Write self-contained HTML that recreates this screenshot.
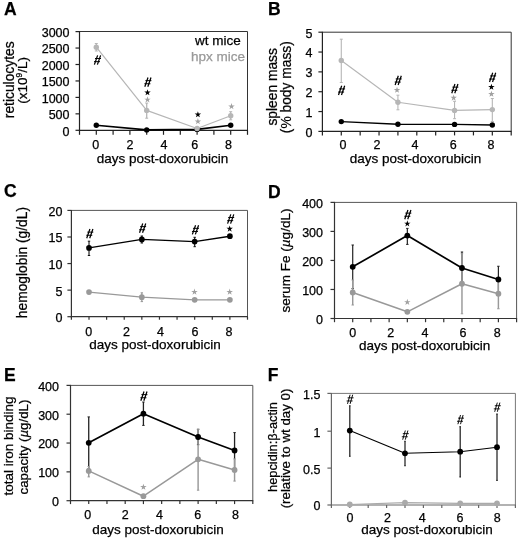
<!DOCTYPE html>
<html><head><meta charset="utf-8"><style>
html,body{margin:0;padding:0;background:#fff;overflow:hidden;}
svg{display:block;will-change:transform;filter:blur(0.3px);}
text{font-family:"Liberation Sans", sans-serif;}
</style></head><body>
<svg width="520" height="540" viewBox="0 0 520 540">
<rect width="520" height="540" fill="#fff"/>
<line x1="79.5" y1="31.5" x2="247.5" y2="31.5" stroke="#111" stroke-width="0"/>
<text x="218" y="44.9" font-size="13.5" text-anchor="middle" fill="#000" stroke="#000" stroke-width="0.25">wt mice</text>
<text x="218" y="60.8" font-size="13.5" text-anchor="middle" fill="#999" stroke="#999" stroke-width="0.25">hpx mice</text>
<line x1="79.50" y1="31.50" x2="247.50" y2="31.50" stroke="#333" stroke-width="1.0"/>
<line x1="247.50" y1="31.50" x2="247.50" y2="130.30" stroke="#333" stroke-width="1.0"/>
<line x1="79.50" y1="31.00" x2="79.50" y2="130.90" stroke="#222" stroke-width="1.2"/>
<line x1="78.90" y1="130.30" x2="248.00" y2="130.30" stroke="#222" stroke-width="1.2"/>
<line x1="75.50" y1="130.30" x2="79.50" y2="130.30" stroke="#222" stroke-width="1.2"/>
<text x="69.50" y="135.70" font-size="12.5" text-anchor="end" fill="#000" stroke="#000" stroke-width="0.25" >0</text>
<line x1="75.50" y1="113.85" x2="79.50" y2="113.85" stroke="#222" stroke-width="1.2"/>
<text x="69.50" y="119.25" font-size="12.5" text-anchor="end" fill="#000" stroke="#000" stroke-width="0.25" >500</text>
<line x1="75.50" y1="97.40" x2="79.50" y2="97.40" stroke="#222" stroke-width="1.2"/>
<text x="69.50" y="102.80" font-size="12.5" text-anchor="end" fill="#000" stroke="#000" stroke-width="0.25" >1000</text>
<line x1="75.50" y1="80.95" x2="79.50" y2="80.95" stroke="#222" stroke-width="1.2"/>
<text x="69.50" y="86.35" font-size="12.5" text-anchor="end" fill="#000" stroke="#000" stroke-width="0.25" >1500</text>
<line x1="75.50" y1="64.50" x2="79.50" y2="64.50" stroke="#222" stroke-width="1.2"/>
<text x="69.50" y="69.90" font-size="12.5" text-anchor="end" fill="#000" stroke="#000" stroke-width="0.25" >2000</text>
<line x1="75.50" y1="48.05" x2="79.50" y2="48.05" stroke="#222" stroke-width="1.2"/>
<text x="69.50" y="53.45" font-size="12.5" text-anchor="end" fill="#000" stroke="#000" stroke-width="0.25" >2500</text>
<line x1="75.50" y1="31.60" x2="79.50" y2="31.60" stroke="#222" stroke-width="1.2"/>
<text x="69.50" y="37.00" font-size="12.5" text-anchor="end" fill="#000" stroke="#000" stroke-width="0.25" >3000</text>
<line x1="79.50" y1="130.30" x2="79.50" y2="134.80" stroke="#222" stroke-width="1.2"/>
<line x1="96.30" y1="130.30" x2="96.30" y2="134.80" stroke="#222" stroke-width="1.2"/>
<line x1="113.10" y1="130.30" x2="113.10" y2="134.80" stroke="#222" stroke-width="1.2"/>
<line x1="129.90" y1="130.30" x2="129.90" y2="134.80" stroke="#222" stroke-width="1.2"/>
<line x1="146.70" y1="130.30" x2="146.70" y2="134.80" stroke="#222" stroke-width="1.2"/>
<line x1="163.50" y1="130.30" x2="163.50" y2="134.80" stroke="#222" stroke-width="1.2"/>
<line x1="180.30" y1="130.30" x2="180.30" y2="134.80" stroke="#222" stroke-width="1.2"/>
<line x1="197.10" y1="130.30" x2="197.10" y2="134.80" stroke="#222" stroke-width="1.2"/>
<line x1="213.90" y1="130.30" x2="213.90" y2="134.80" stroke="#222" stroke-width="1.2"/>
<line x1="230.70" y1="130.30" x2="230.70" y2="134.80" stroke="#222" stroke-width="1.2"/>
<line x1="247.50" y1="130.30" x2="247.50" y2="134.80" stroke="#222" stroke-width="1.2"/>
<text x="95.80" y="148.90" font-size="12.5" text-anchor="middle" fill="#000" stroke="#000" stroke-width="0.25" >0</text>
<text x="130.10" y="148.90" font-size="12.5" text-anchor="middle" fill="#000" stroke="#000" stroke-width="0.25" >2</text>
<text x="164.00" y="148.90" font-size="12.5" text-anchor="middle" fill="#000" stroke="#000" stroke-width="0.25" >4</text>
<text x="194.80" y="148.90" font-size="12.5" text-anchor="middle" fill="#000" stroke="#000" stroke-width="0.25" >6</text>
<text x="228.50" y="148.90" font-size="12.5" text-anchor="middle" fill="#000" stroke="#000" stroke-width="0.25" >8</text>
<text x="162.50" y="162.70" font-size="13.5" text-anchor="middle" fill="#000" stroke="#000" stroke-width="0.25" >days post-doxorubicin</text>
<text x="14.00" y="79.80" font-size="13.8" text-anchor="middle" stroke="#000" stroke-width="0.25" transform="rotate(-90 14.00 79.80)">reticulocytes</text>
<text x="26.80" y="80.30" font-size="13.5" text-anchor="middle" stroke="#000" stroke-width="0.25" transform="rotate(-90 26.80 80.30)">(x10<tspan font-size="8.5" dy="-4.5">9</tspan><tspan dy="4.5">/L)</tspan></text>
<text x="4.00" y="15.00" font-size="17.5" text-anchor="start" fill="#000" stroke="#000" stroke-width="0.25" font-weight="bold">A</text>
<polyline points="96.30,125.30 146.70,129.90 197.10,129.40 230.70,125.30" fill="none" stroke="#000" stroke-width="1.6" stroke-linejoin="round"/>
<circle cx="96.30" cy="125.30" r="2.7" fill="#000"/>
<circle cx="146.70" cy="129.90" r="2.7" fill="#000"/>
<circle cx="197.10" cy="129.40" r="2.7" fill="#000"/>
<circle cx="230.70" cy="125.30" r="2.7" fill="#000"/>
<line x1="96.30" y1="43.50" x2="96.30" y2="51.00" stroke="#b6b6b6" stroke-width="1.3"/>
<line x1="94.80" y1="43.50" x2="97.80" y2="43.50" stroke="#b6b6b6" stroke-width="1.0"/>
<line x1="94.80" y1="51.00" x2="97.80" y2="51.00" stroke="#b6b6b6" stroke-width="1.0"/>
<line x1="146.70" y1="103.10" x2="146.70" y2="118.20" stroke="#b6b6b6" stroke-width="1.3"/>
<line x1="145.20" y1="103.10" x2="148.20" y2="103.10" stroke="#b6b6b6" stroke-width="1.0"/>
<line x1="145.20" y1="118.20" x2="148.20" y2="118.20" stroke="#b6b6b6" stroke-width="1.0"/>
<line x1="230.70" y1="111.70" x2="230.70" y2="119.80" stroke="#b6b6b6" stroke-width="1.3"/>
<line x1="229.20" y1="111.70" x2="232.20" y2="111.70" stroke="#b6b6b6" stroke-width="1.0"/>
<line x1="229.20" y1="119.80" x2="232.20" y2="119.80" stroke="#b6b6b6" stroke-width="1.0"/>
<polyline points="96.30,47.20 146.70,110.40 197.10,128.50 230.70,115.80" fill="none" stroke="#b6b6b6" stroke-width="1.2" stroke-linejoin="round"/>
<circle cx="96.30" cy="47.20" r="2.7" fill="#b6b6b6"/>
<circle cx="146.70" cy="110.40" r="2.7" fill="#b6b6b6"/>
<circle cx="197.10" cy="128.50" r="2.7" fill="#b6b6b6"/>
<circle cx="230.70" cy="115.80" r="2.7" fill="#b6b6b6"/>
<path d="M97.60,55.40L94.40,64.60M100.60,55.40L97.40,64.60" stroke="#000" stroke-width="1.25" fill="none"/>
<path d="M95.00,58.53L101.00,58.53M94.00,61.66L100.00,61.66" stroke="#000" stroke-width="1.0" fill="none"/>
<path d="M148.00,77.50L144.80,86.70M151.00,77.50L147.80,86.70" stroke="#000" stroke-width="1.25" fill="none"/>
<path d="M145.40,80.63L151.40,80.63M144.40,83.76L150.40,83.76" stroke="#000" stroke-width="1.0" fill="none"/>
<polygon points="147.50,89.20 148.26,91.55 150.73,91.55 148.73,93.00 149.50,95.35 147.50,93.89 145.50,95.35 146.27,93.00 144.27,91.55 146.74,91.55" fill="#000"/>
<polygon points="147.50,96.30 148.26,98.65 150.73,98.65 148.73,100.10 149.50,102.45 147.50,100.99 145.50,102.45 146.27,100.10 144.27,98.65 146.74,98.65" fill="#a0a0a0"/>
<polygon points="197.90,111.20 198.66,113.55 201.13,113.55 199.13,115.00 199.90,117.35 197.90,115.89 195.90,117.35 196.67,115.00 194.67,113.55 197.14,113.55" fill="#000"/>
<polygon points="197.90,118.10 198.66,120.45 201.13,120.45 199.13,121.90 199.90,124.25 197.90,122.79 195.90,124.25 196.67,121.90 194.67,120.45 197.14,120.45" fill="#a0a0a0"/>
<polygon points="231.50,103.10 232.26,105.45 234.73,105.45 232.73,106.90 233.50,109.25 231.50,107.79 229.50,109.25 230.27,106.90 228.27,105.45 230.74,105.45" fill="#a0a0a0"/>
<line x1="322.40" y1="32.20" x2="511.20" y2="32.20" stroke="#333" stroke-width="1.0"/>
<line x1="511.20" y1="32.20" x2="511.20" y2="131.40" stroke="#333" stroke-width="1.0"/>
<line x1="322.40" y1="31.70" x2="322.40" y2="132.00" stroke="#222" stroke-width="1.2"/>
<line x1="321.80" y1="131.40" x2="511.70" y2="131.40" stroke="#222" stroke-width="1.2"/>
<line x1="318.40" y1="131.40" x2="322.40" y2="131.40" stroke="#222" stroke-width="1.2"/>
<text x="312.50" y="136.80" font-size="12.5" text-anchor="end" fill="#000" stroke="#000" stroke-width="0.25" >0</text>
<line x1="318.40" y1="111.56" x2="322.40" y2="111.56" stroke="#222" stroke-width="1.2"/>
<text x="312.50" y="116.96" font-size="12.5" text-anchor="end" fill="#000" stroke="#000" stroke-width="0.25" >1</text>
<line x1="318.40" y1="91.72" x2="322.40" y2="91.72" stroke="#222" stroke-width="1.2"/>
<text x="312.50" y="97.12" font-size="12.5" text-anchor="end" fill="#000" stroke="#000" stroke-width="0.25" >2</text>
<line x1="318.40" y1="71.88" x2="322.40" y2="71.88" stroke="#222" stroke-width="1.2"/>
<text x="312.50" y="77.28" font-size="12.5" text-anchor="end" fill="#000" stroke="#000" stroke-width="0.25" >3</text>
<line x1="318.40" y1="52.04" x2="322.40" y2="52.04" stroke="#222" stroke-width="1.2"/>
<text x="312.50" y="57.44" font-size="12.5" text-anchor="end" fill="#000" stroke="#000" stroke-width="0.25" >4</text>
<line x1="318.40" y1="32.20" x2="322.40" y2="32.20" stroke="#222" stroke-width="1.2"/>
<text x="312.50" y="37.60" font-size="12.5" text-anchor="end" fill="#000" stroke="#000" stroke-width="0.25" >5</text>
<line x1="322.40" y1="131.40" x2="322.40" y2="135.40" stroke="#222" stroke-width="1.2"/>
<line x1="341.28" y1="131.40" x2="341.28" y2="135.40" stroke="#222" stroke-width="1.2"/>
<line x1="360.16" y1="131.40" x2="360.16" y2="135.40" stroke="#222" stroke-width="1.2"/>
<line x1="379.04" y1="131.40" x2="379.04" y2="135.40" stroke="#222" stroke-width="1.2"/>
<line x1="397.92" y1="131.40" x2="397.92" y2="135.40" stroke="#222" stroke-width="1.2"/>
<line x1="416.80" y1="131.40" x2="416.80" y2="135.40" stroke="#222" stroke-width="1.2"/>
<line x1="435.68" y1="131.40" x2="435.68" y2="135.40" stroke="#222" stroke-width="1.2"/>
<line x1="454.56" y1="131.40" x2="454.56" y2="135.40" stroke="#222" stroke-width="1.2"/>
<line x1="473.44" y1="131.40" x2="473.44" y2="135.40" stroke="#222" stroke-width="1.2"/>
<line x1="492.32" y1="131.40" x2="492.32" y2="135.40" stroke="#222" stroke-width="1.2"/>
<line x1="511.20" y1="131.40" x2="511.20" y2="135.40" stroke="#222" stroke-width="1.2"/>
<text x="343.10" y="149.40" font-size="12.5" text-anchor="middle" fill="#000" stroke="#000" stroke-width="0.25" >0</text>
<text x="377.00" y="149.40" font-size="12.5" text-anchor="middle" fill="#000" stroke="#000" stroke-width="0.25" >2</text>
<text x="414.90" y="149.40" font-size="12.5" text-anchor="middle" fill="#000" stroke="#000" stroke-width="0.25" >4</text>
<text x="453.30" y="149.40" font-size="12.5" text-anchor="middle" fill="#000" stroke="#000" stroke-width="0.25" >6</text>
<text x="490.90" y="149.40" font-size="12.5" text-anchor="middle" fill="#000" stroke="#000" stroke-width="0.25" >8</text>
<text x="415.50" y="163.40" font-size="13.5" text-anchor="middle" fill="#000" stroke="#000" stroke-width="0.25" >days post-doxorubicin</text>
<text x="277.50" y="86.80" font-size="13.8" text-anchor="middle" stroke="#000" stroke-width="0.25" transform="rotate(-90 277.50 86.80)">spleen mass</text>
<text x="291.00" y="87.20" font-size="13.8" text-anchor="middle" stroke="#000" stroke-width="0.25" transform="rotate(-90 291.00 87.20)">(% body mass)</text>
<text x="268.00" y="15.00" font-size="17.5" text-anchor="start" fill="#000" stroke="#000" stroke-width="0.25" font-weight="bold">B</text>
<polyline points="341.28,121.60 397.92,124.30 454.56,124.40 492.32,125.00" fill="none" stroke="#000" stroke-width="1.4" stroke-linejoin="round"/>
<circle cx="341.28" cy="121.60" r="2.7" fill="#000"/>
<circle cx="397.92" cy="124.30" r="2.7" fill="#000"/>
<circle cx="454.56" cy="124.40" r="2.7" fill="#000"/>
<circle cx="492.32" cy="125.00" r="2.7" fill="#000"/>
<line x1="341.28" y1="39.20" x2="341.28" y2="82.50" stroke="#b6b6b6" stroke-width="1.1"/>
<line x1="339.78" y1="39.20" x2="342.78" y2="39.20" stroke="#b6b6b6" stroke-width="1.0"/>
<line x1="339.78" y1="82.50" x2="342.78" y2="82.50" stroke="#b6b6b6" stroke-width="1.0"/>
<line x1="397.92" y1="95.20" x2="397.92" y2="109.80" stroke="#b6b6b6" stroke-width="1.1"/>
<line x1="396.42" y1="95.20" x2="399.42" y2="95.20" stroke="#b6b6b6" stroke-width="1.0"/>
<line x1="396.42" y1="109.80" x2="399.42" y2="109.80" stroke="#b6b6b6" stroke-width="1.0"/>
<line x1="454.56" y1="101.30" x2="454.56" y2="118.70" stroke="#b6b6b6" stroke-width="1.1"/>
<line x1="453.06" y1="101.30" x2="456.06" y2="101.30" stroke="#b6b6b6" stroke-width="1.0"/>
<line x1="453.06" y1="118.70" x2="456.06" y2="118.70" stroke="#b6b6b6" stroke-width="1.0"/>
<line x1="492.32" y1="98.50" x2="492.32" y2="121.50" stroke="#b6b6b6" stroke-width="1.1"/>
<line x1="490.82" y1="98.50" x2="493.82" y2="98.50" stroke="#b6b6b6" stroke-width="1.0"/>
<line x1="490.82" y1="121.50" x2="493.82" y2="121.50" stroke="#b6b6b6" stroke-width="1.0"/>
<polyline points="341.28,60.50 397.92,102.30 454.56,110.40 492.32,109.60" fill="none" stroke="#b6b6b6" stroke-width="1.1" stroke-linejoin="round"/>
<circle cx="341.28" cy="60.50" r="2.7" fill="#b6b6b6"/>
<circle cx="397.92" cy="102.30" r="2.7" fill="#b6b6b6"/>
<circle cx="454.56" cy="110.40" r="2.7" fill="#b6b6b6"/>
<circle cx="492.32" cy="109.60" r="2.7" fill="#b6b6b6"/>
<path d="M341.68,85.80L338.48,95.00M344.68,85.80L341.48,95.00" stroke="#000" stroke-width="1.25" fill="none"/>
<path d="M339.08,88.93L345.08,88.93M338.08,92.06L344.08,92.06" stroke="#000" stroke-width="1.0" fill="none"/>
<path d="M398.32,75.80L395.12,85.00M401.32,75.80L398.12,85.00" stroke="#000" stroke-width="1.25" fill="none"/>
<path d="M395.72,78.93L401.72,78.93M394.72,82.06L400.72,82.06" stroke="#000" stroke-width="1.0" fill="none"/>
<polygon points="397.02,86.70 397.78,89.05 400.25,89.05 398.25,90.50 399.02,92.85 397.02,91.39 395.02,92.85 395.79,90.50 393.79,89.05 396.26,89.05" fill="#a0a0a0"/>
<path d="M454.96,84.00L451.76,93.20M457.96,84.00L454.76,93.20" stroke="#000" stroke-width="1.25" fill="none"/>
<path d="M452.36,87.13L458.36,87.13M451.36,90.26L457.36,90.26" stroke="#000" stroke-width="1.0" fill="none"/>
<polygon points="453.66,94.50 454.42,96.85 456.89,96.85 454.89,98.30 455.66,100.65 453.66,99.19 451.66,100.65 452.43,98.30 450.43,96.85 452.90,96.85" fill="#a0a0a0"/>
<path d="M492.72,72.80L489.52,82.00M495.72,72.80L492.52,82.00" stroke="#000" stroke-width="1.25" fill="none"/>
<path d="M490.12,75.93L496.12,75.93M489.12,79.06L495.12,79.06" stroke="#000" stroke-width="1.0" fill="none"/>
<polygon points="491.42,83.70 492.18,86.05 494.65,86.05 492.65,87.50 493.42,89.85 491.42,88.39 489.42,89.85 490.19,87.50 488.19,86.05 490.66,86.05" fill="#000"/>
<polygon points="491.42,90.70 492.18,93.05 494.65,93.05 492.65,94.50 493.42,96.85 491.42,95.39 489.42,96.85 490.19,94.50 488.19,93.05 490.66,93.05" fill="#a0a0a0"/>
<line x1="71.40" y1="210.40" x2="247.50" y2="210.40" stroke="#555" stroke-width="1.0"/>
<line x1="247.50" y1="210.40" x2="247.50" y2="316.70" stroke="#555" stroke-width="1.0"/>
<line x1="71.40" y1="209.90" x2="71.40" y2="317.30" stroke="#333" stroke-width="1.2"/>
<line x1="70.80" y1="316.70" x2="248.00" y2="316.70" stroke="#333" stroke-width="1.2"/>
<line x1="67.40" y1="316.70" x2="71.40" y2="316.70" stroke="#333" stroke-width="1.2"/>
<text x="62.50" y="322.10" font-size="12.5" text-anchor="end" fill="#000" stroke="#000" stroke-width="0.25" >0</text>
<line x1="67.40" y1="290.13" x2="71.40" y2="290.13" stroke="#333" stroke-width="1.2"/>
<text x="62.50" y="295.53" font-size="12.5" text-anchor="end" fill="#000" stroke="#000" stroke-width="0.25" >5</text>
<line x1="67.40" y1="263.56" x2="71.40" y2="263.56" stroke="#333" stroke-width="1.2"/>
<text x="62.50" y="268.96" font-size="12.5" text-anchor="end" fill="#000" stroke="#000" stroke-width="0.25" >10</text>
<line x1="67.40" y1="236.99" x2="71.40" y2="236.99" stroke="#333" stroke-width="1.2"/>
<text x="62.50" y="242.39" font-size="12.5" text-anchor="end" fill="#000" stroke="#000" stroke-width="0.25" >15</text>
<line x1="67.40" y1="210.42" x2="71.40" y2="210.42" stroke="#333" stroke-width="1.2"/>
<text x="62.50" y="215.82" font-size="12.5" text-anchor="end" fill="#000" stroke="#000" stroke-width="0.25" >20</text>
<line x1="71.40" y1="316.70" x2="71.40" y2="319.70" stroke="#333" stroke-width="1.2"/>
<line x1="89.01" y1="316.70" x2="89.01" y2="319.70" stroke="#333" stroke-width="1.2"/>
<line x1="106.62" y1="316.70" x2="106.62" y2="319.70" stroke="#333" stroke-width="1.2"/>
<line x1="124.23" y1="316.70" x2="124.23" y2="319.70" stroke="#333" stroke-width="1.2"/>
<line x1="141.84" y1="316.70" x2="141.84" y2="319.70" stroke="#333" stroke-width="1.2"/>
<line x1="159.45" y1="316.70" x2="159.45" y2="319.70" stroke="#333" stroke-width="1.2"/>
<line x1="177.06" y1="316.70" x2="177.06" y2="319.70" stroke="#333" stroke-width="1.2"/>
<line x1="194.67" y1="316.70" x2="194.67" y2="319.70" stroke="#333" stroke-width="1.2"/>
<line x1="212.28" y1="316.70" x2="212.28" y2="319.70" stroke="#333" stroke-width="1.2"/>
<line x1="229.89" y1="316.70" x2="229.89" y2="319.70" stroke="#333" stroke-width="1.2"/>
<line x1="247.50" y1="316.70" x2="247.50" y2="319.70" stroke="#333" stroke-width="1.2"/>
<text x="88.65" y="335.90" font-size="12.5" text-anchor="middle" fill="#000" stroke="#000" stroke-width="0.25" >0</text>
<text x="126.40" y="335.90" font-size="12.5" text-anchor="middle" fill="#000" stroke="#000" stroke-width="0.25" >2</text>
<text x="160.40" y="335.90" font-size="12.5" text-anchor="middle" fill="#000" stroke="#000" stroke-width="0.25" >4</text>
<text x="194.90" y="335.90" font-size="12.5" text-anchor="middle" fill="#000" stroke="#000" stroke-width="0.25" >6</text>
<text x="228.90" y="335.90" font-size="12.5" text-anchor="middle" fill="#000" stroke="#000" stroke-width="0.25" >8</text>
<text x="155.00" y="348.60" font-size="13.5" text-anchor="middle" fill="#000" stroke="#000" stroke-width="0.25" >days post-doxorubicin</text>
<text x="27.00" y="262.60" font-size="13.8" text-anchor="middle" stroke="#000" stroke-width="0.25" transform="rotate(-90 27.00 262.60)">hemoglobin (g/dL)</text>
<text x="4.00" y="196.50" font-size="17.5" text-anchor="start" fill="#000" stroke="#000" stroke-width="0.25" font-weight="bold">C</text>
<line x1="89.01" y1="241.20" x2="89.01" y2="255.50" stroke="#111" stroke-width="1.1"/>
<line x1="87.81" y1="241.20" x2="90.21" y2="241.20" stroke="#111" stroke-width="1.0"/>
<line x1="87.81" y1="255.50" x2="90.21" y2="255.50" stroke="#111" stroke-width="1.0"/>
<line x1="141.84" y1="236.00" x2="141.84" y2="243.00" stroke="#111" stroke-width="1.1"/>
<line x1="140.64" y1="236.00" x2="143.04" y2="236.00" stroke="#111" stroke-width="1.0"/>
<line x1="140.64" y1="243.00" x2="143.04" y2="243.00" stroke="#111" stroke-width="1.0"/>
<line x1="194.67" y1="237.30" x2="194.67" y2="246.70" stroke="#111" stroke-width="1.1"/>
<line x1="193.47" y1="237.30" x2="195.87" y2="237.30" stroke="#111" stroke-width="1.0"/>
<line x1="193.47" y1="246.70" x2="195.87" y2="246.70" stroke="#111" stroke-width="1.0"/>
<line x1="141.84" y1="292.80" x2="141.84" y2="301.60" stroke="#999" stroke-width="1.3"/>
<line x1="140.64" y1="292.80" x2="143.04" y2="292.80" stroke="#999" stroke-width="1.0"/>
<line x1="140.64" y1="301.60" x2="143.04" y2="301.60" stroke="#999" stroke-width="1.0"/>
<polyline points="89.01,292.10 141.84,297.20 194.67,299.80 229.89,299.80" fill="none" stroke="#999" stroke-width="1.25" stroke-linejoin="round"/>
<circle cx="89.01" cy="292.10" r="2.85" fill="#999"/>
<circle cx="141.84" cy="297.20" r="2.85" fill="#999"/>
<circle cx="194.67" cy="299.80" r="2.85" fill="#999"/>
<circle cx="229.89" cy="299.80" r="2.85" fill="#999"/>
<polyline points="89.01,247.90 141.84,239.40 194.67,241.60 229.89,236.20" fill="none" stroke="#000" stroke-width="1.4" stroke-linejoin="round"/>
<circle cx="89.01" cy="247.90" r="2.85" fill="#000"/>
<circle cx="141.84" cy="239.40" r="2.85" fill="#000"/>
<circle cx="194.67" cy="241.60" r="2.85" fill="#000"/>
<circle cx="229.89" cy="236.20" r="2.85" fill="#000"/>
<path d="M89.91,229.00L86.71,238.20M92.91,229.00L89.71,238.20" stroke="#000" stroke-width="1.25" fill="none"/>
<path d="M87.31,232.13L93.31,232.13M86.31,235.26L92.31,235.26" stroke="#000" stroke-width="1.0" fill="none"/>
<path d="M142.74,223.50L139.54,232.70M145.74,223.50L142.54,232.70" stroke="#000" stroke-width="1.25" fill="none"/>
<path d="M140.14,226.63L146.14,226.63M139.14,229.76L145.14,229.76" stroke="#000" stroke-width="1.0" fill="none"/>
<path d="M195.57,225.20L192.37,234.40M198.57,225.20L195.37,234.40" stroke="#000" stroke-width="1.25" fill="none"/>
<path d="M192.97,228.33L198.97,228.33M191.97,231.46L197.97,231.46" stroke="#000" stroke-width="1.0" fill="none"/>
<path d="M230.79,214.40L227.59,223.60M233.79,214.40L230.59,223.60" stroke="#000" stroke-width="1.25" fill="none"/>
<path d="M228.19,217.53L234.19,217.53M227.19,220.66L233.19,220.66" stroke="#000" stroke-width="1.0" fill="none"/>
<polygon points="229.69,225.50 230.45,227.85 232.92,227.85 230.92,229.30 231.69,231.65 229.69,230.19 227.69,231.65 228.46,229.30 226.46,227.85 228.93,227.85" fill="#000"/>
<polygon points="194.47,288.60 195.23,290.95 197.70,290.95 195.70,292.40 196.47,294.75 194.47,293.29 192.47,294.75 193.24,292.40 191.24,290.95 193.71,290.95" fill="#a0a0a0"/>
<polygon points="229.69,288.60 230.45,290.95 232.92,290.95 230.92,292.40 231.69,294.75 229.69,293.29 227.69,294.75 228.46,292.40 226.46,290.95 228.93,290.95" fill="#a0a0a0"/>
<line x1="334.50" y1="202.40" x2="516.60" y2="202.40" stroke="#555" stroke-width="1.0"/>
<line x1="516.60" y1="202.40" x2="516.60" y2="318.50" stroke="#555" stroke-width="1.0"/>
<line x1="334.50" y1="201.90" x2="334.50" y2="319.10" stroke="#333" stroke-width="1.2"/>
<line x1="333.90" y1="318.50" x2="517.10" y2="318.50" stroke="#333" stroke-width="1.2"/>
<line x1="330.50" y1="318.50" x2="334.50" y2="318.50" stroke="#333" stroke-width="1.2"/>
<text x="323.00" y="323.90" font-size="12.5" text-anchor="end" fill="#000" stroke="#000" stroke-width="0.25" >0</text>
<line x1="330.50" y1="289.47" x2="334.50" y2="289.47" stroke="#333" stroke-width="1.2"/>
<text x="323.00" y="294.87" font-size="12.5" text-anchor="end" fill="#000" stroke="#000" stroke-width="0.25" >100</text>
<line x1="330.50" y1="260.44" x2="334.50" y2="260.44" stroke="#333" stroke-width="1.2"/>
<text x="323.00" y="265.84" font-size="12.5" text-anchor="end" fill="#000" stroke="#000" stroke-width="0.25" >200</text>
<line x1="330.50" y1="231.41" x2="334.50" y2="231.41" stroke="#333" stroke-width="1.2"/>
<text x="323.00" y="236.81" font-size="12.5" text-anchor="end" fill="#000" stroke="#000" stroke-width="0.25" >300</text>
<line x1="330.50" y1="202.38" x2="334.50" y2="202.38" stroke="#333" stroke-width="1.2"/>
<text x="323.00" y="207.78" font-size="12.5" text-anchor="end" fill="#000" stroke="#000" stroke-width="0.25" >400</text>
<line x1="334.50" y1="318.50" x2="334.50" y2="322.20" stroke="#333" stroke-width="1.2"/>
<line x1="352.71" y1="318.50" x2="352.71" y2="322.20" stroke="#333" stroke-width="1.2"/>
<line x1="370.92" y1="318.50" x2="370.92" y2="322.20" stroke="#333" stroke-width="1.2"/>
<line x1="389.13" y1="318.50" x2="389.13" y2="322.20" stroke="#333" stroke-width="1.2"/>
<line x1="407.34" y1="318.50" x2="407.34" y2="322.20" stroke="#333" stroke-width="1.2"/>
<line x1="425.55" y1="318.50" x2="425.55" y2="322.20" stroke="#333" stroke-width="1.2"/>
<line x1="443.76" y1="318.50" x2="443.76" y2="322.20" stroke="#333" stroke-width="1.2"/>
<line x1="461.97" y1="318.50" x2="461.97" y2="322.20" stroke="#333" stroke-width="1.2"/>
<line x1="480.18" y1="318.50" x2="480.18" y2="322.20" stroke="#333" stroke-width="1.2"/>
<line x1="498.39" y1="318.50" x2="498.39" y2="322.20" stroke="#333" stroke-width="1.2"/>
<line x1="516.60" y1="318.50" x2="516.60" y2="322.20" stroke="#333" stroke-width="1.2"/>
<text x="352.80" y="336.80" font-size="12.5" text-anchor="middle" fill="#000" stroke="#000" stroke-width="0.25" >0</text>
<text x="390.80" y="336.80" font-size="12.5" text-anchor="middle" fill="#000" stroke="#000" stroke-width="0.25" >2</text>
<text x="424.90" y="336.80" font-size="12.5" text-anchor="middle" fill="#000" stroke="#000" stroke-width="0.25" >4</text>
<text x="463.00" y="336.80" font-size="12.5" text-anchor="middle" fill="#000" stroke="#000" stroke-width="0.25" >6</text>
<text x="497.20" y="336.80" font-size="12.5" text-anchor="middle" fill="#000" stroke="#000" stroke-width="0.25" >8</text>
<text x="424.60" y="350.20" font-size="13.5" text-anchor="middle" fill="#000" stroke="#000" stroke-width="0.25" >days post-doxorubicin</text>
<text x="290.00" y="260.50" font-size="13.5" text-anchor="middle" stroke="#000" stroke-width="0.25" transform="rotate(-90 290.00 260.50)">serum Fe (<tspan font-style="italic">µ</tspan>g/dL)</text>
<text x="268.00" y="198.00" font-size="17.5" text-anchor="start" fill="#000" stroke="#000" stroke-width="0.25" font-weight="bold">D</text>
<line x1="352.71" y1="245.00" x2="352.71" y2="288.60" stroke="#222" stroke-width="1.2"/>
<line x1="351.51" y1="245.00" x2="353.91" y2="245.00" stroke="#222" stroke-width="1.0"/>
<line x1="351.51" y1="288.60" x2="353.91" y2="288.60" stroke="#222" stroke-width="1.0"/>
<line x1="407.34" y1="228.40" x2="407.34" y2="244.40" stroke="#222" stroke-width="1.2"/>
<line x1="406.14" y1="228.40" x2="408.54" y2="228.40" stroke="#222" stroke-width="1.0"/>
<line x1="406.14" y1="244.40" x2="408.54" y2="244.40" stroke="#222" stroke-width="1.0"/>
<line x1="461.97" y1="252.00" x2="461.97" y2="284.00" stroke="#222" stroke-width="1.2"/>
<line x1="460.77" y1="252.00" x2="463.17" y2="252.00" stroke="#222" stroke-width="1.0"/>
<line x1="460.77" y1="284.00" x2="463.17" y2="284.00" stroke="#222" stroke-width="1.0"/>
<line x1="498.39" y1="266.25" x2="498.39" y2="292.75" stroke="#222" stroke-width="1.2"/>
<line x1="497.19" y1="266.25" x2="499.59" y2="266.25" stroke="#222" stroke-width="1.0"/>
<line x1="497.19" y1="292.75" x2="499.59" y2="292.75" stroke="#222" stroke-width="1.0"/>
<line x1="352.71" y1="280.00" x2="352.71" y2="305.00" stroke="#999" stroke-width="1.45"/>
<line x1="351.51" y1="280.00" x2="353.91" y2="280.00" stroke="#999" stroke-width="1.0"/>
<line x1="351.51" y1="305.00" x2="353.91" y2="305.00" stroke="#999" stroke-width="1.0"/>
<line x1="461.97" y1="253.75" x2="461.97" y2="313.75" stroke="#999" stroke-width="1.45"/>
<line x1="460.77" y1="253.75" x2="463.17" y2="253.75" stroke="#999" stroke-width="1.0"/>
<line x1="460.77" y1="313.75" x2="463.17" y2="313.75" stroke="#999" stroke-width="1.0"/>
<line x1="498.39" y1="278.75" x2="498.39" y2="308.75" stroke="#999" stroke-width="1.45"/>
<line x1="497.19" y1="278.75" x2="499.59" y2="278.75" stroke="#999" stroke-width="1.0"/>
<line x1="497.19" y1="308.75" x2="499.59" y2="308.75" stroke="#999" stroke-width="1.0"/>
<polyline points="352.71,292.50 407.34,311.80 461.97,283.75 498.39,293.75" fill="none" stroke="#999" stroke-width="1.5" stroke-linejoin="round"/>
<circle cx="352.71" cy="292.50" r="2.9" fill="#999"/>
<circle cx="407.34" cy="311.80" r="2.9" fill="#999"/>
<circle cx="461.97" cy="283.75" r="2.9" fill="#999"/>
<circle cx="498.39" cy="293.75" r="2.9" fill="#999"/>
<polyline points="352.71,266.80 407.34,235.60 461.97,268.00 498.39,279.50" fill="none" stroke="#000" stroke-width="1.7" stroke-linejoin="round"/>
<circle cx="352.71" cy="266.80" r="2.9" fill="#000"/>
<circle cx="407.34" cy="235.60" r="2.9" fill="#000"/>
<circle cx="461.97" cy="268.00" r="2.9" fill="#000"/>
<circle cx="498.39" cy="279.50" r="2.9" fill="#000"/>
<path d="M407.94,210.00L404.74,219.20M410.94,210.00L407.74,219.20" stroke="#000" stroke-width="1.25" fill="none"/>
<path d="M405.34,213.13L411.34,213.13M404.34,216.26L410.34,216.26" stroke="#000" stroke-width="1.0" fill="none"/>
<polygon points="407.34,220.30 408.10,222.65 410.57,222.65 408.57,224.10 409.34,226.45 407.34,224.99 405.34,226.45 406.11,224.10 404.11,222.65 406.58,222.65" fill="#000"/>
<polygon points="407.34,298.80 408.10,301.15 410.57,301.15 408.57,302.60 409.34,304.95 407.34,303.49 405.34,304.95 406.11,302.60 404.11,301.15 406.58,301.15" fill="#a0a0a0"/>
<line x1="70.50" y1="385.40" x2="252.80" y2="385.40" stroke="#555" stroke-width="1.0"/>
<line x1="252.80" y1="385.40" x2="252.80" y2="500.70" stroke="#555" stroke-width="1.0"/>
<line x1="70.50" y1="384.90" x2="70.50" y2="501.30" stroke="#333" stroke-width="1.2"/>
<line x1="69.90" y1="500.70" x2="253.30" y2="500.70" stroke="#333" stroke-width="1.2"/>
<line x1="66.50" y1="500.70" x2="70.50" y2="500.70" stroke="#333" stroke-width="1.2"/>
<text x="59.00" y="506.10" font-size="12.5" text-anchor="end" fill="#000" stroke="#000" stroke-width="0.25" >0</text>
<line x1="66.50" y1="471.87" x2="70.50" y2="471.87" stroke="#333" stroke-width="1.2"/>
<text x="59.00" y="477.27" font-size="12.5" text-anchor="end" fill="#000" stroke="#000" stroke-width="0.25" >100</text>
<line x1="66.50" y1="443.04" x2="70.50" y2="443.04" stroke="#333" stroke-width="1.2"/>
<text x="59.00" y="448.44" font-size="12.5" text-anchor="end" fill="#000" stroke="#000" stroke-width="0.25" >200</text>
<line x1="66.50" y1="414.21" x2="70.50" y2="414.21" stroke="#333" stroke-width="1.2"/>
<text x="59.00" y="419.61" font-size="12.5" text-anchor="end" fill="#000" stroke="#000" stroke-width="0.25" >300</text>
<line x1="66.50" y1="385.38" x2="70.50" y2="385.38" stroke="#333" stroke-width="1.2"/>
<text x="59.00" y="390.78" font-size="12.5" text-anchor="end" fill="#000" stroke="#000" stroke-width="0.25" >400</text>
<line x1="70.50" y1="500.70" x2="70.50" y2="504.10" stroke="#333" stroke-width="1.2"/>
<line x1="88.73" y1="500.70" x2="88.73" y2="504.10" stroke="#333" stroke-width="1.2"/>
<line x1="106.96" y1="500.70" x2="106.96" y2="504.10" stroke="#333" stroke-width="1.2"/>
<line x1="125.19" y1="500.70" x2="125.19" y2="504.10" stroke="#333" stroke-width="1.2"/>
<line x1="143.42" y1="500.70" x2="143.42" y2="504.10" stroke="#333" stroke-width="1.2"/>
<line x1="161.65" y1="500.70" x2="161.65" y2="504.10" stroke="#333" stroke-width="1.2"/>
<line x1="179.88" y1="500.70" x2="179.88" y2="504.10" stroke="#333" stroke-width="1.2"/>
<line x1="198.11" y1="500.70" x2="198.11" y2="504.10" stroke="#333" stroke-width="1.2"/>
<line x1="216.34" y1="500.70" x2="216.34" y2="504.10" stroke="#333" stroke-width="1.2"/>
<line x1="234.57" y1="500.70" x2="234.57" y2="504.10" stroke="#333" stroke-width="1.2"/>
<line x1="252.80" y1="500.70" x2="252.80" y2="504.10" stroke="#333" stroke-width="1.2"/>
<text x="87.80" y="519.40" font-size="12.5" text-anchor="middle" fill="#000" stroke="#000" stroke-width="0.25" >0</text>
<text x="125.30" y="519.40" font-size="12.5" text-anchor="middle" fill="#000" stroke="#000" stroke-width="0.25" >2</text>
<text x="159.60" y="519.40" font-size="12.5" text-anchor="middle" fill="#000" stroke="#000" stroke-width="0.25" >4</text>
<text x="197.70" y="519.40" font-size="12.5" text-anchor="middle" fill="#000" stroke="#000" stroke-width="0.25" >6</text>
<text x="235.40" y="519.40" font-size="12.5" text-anchor="middle" fill="#000" stroke="#000" stroke-width="0.25" >8</text>
<text x="158.00" y="533.50" font-size="13.5" text-anchor="middle" fill="#000" stroke="#000" stroke-width="0.25" >days post-doxorubicin</text>
<text x="12.50" y="446.00" font-size="13.5" text-anchor="middle" stroke="#000" stroke-width="0.25" transform="rotate(-90 12.50 446.00)">total iron binding</text>
<text x="27.50" y="447.00" font-size="13.3" text-anchor="middle" stroke="#000" stroke-width="0.25" transform="rotate(-90 27.50 447.00)">capacity (<tspan font-style="italic">µ</tspan>g/dL)</text>
<text x="4.00" y="380.70" font-size="17.5" text-anchor="start" fill="#000" stroke="#000" stroke-width="0.25" font-weight="bold">E</text>
<line x1="88.73" y1="416.90" x2="88.73" y2="468.70" stroke="#222" stroke-width="1.3"/>
<line x1="87.53" y1="416.90" x2="89.93" y2="416.90" stroke="#222" stroke-width="1.0"/>
<line x1="87.53" y1="468.70" x2="89.93" y2="468.70" stroke="#222" stroke-width="1.0"/>
<line x1="143.42" y1="402.00" x2="143.42" y2="425.40" stroke="#222" stroke-width="1.3"/>
<line x1="142.22" y1="402.00" x2="144.62" y2="402.00" stroke="#222" stroke-width="1.0"/>
<line x1="142.22" y1="425.40" x2="144.62" y2="425.40" stroke="#222" stroke-width="1.0"/>
<line x1="198.11" y1="429.30" x2="198.11" y2="444.70" stroke="#222" stroke-width="1.3"/>
<line x1="196.91" y1="429.30" x2="199.31" y2="429.30" stroke="#222" stroke-width="1.0"/>
<line x1="196.91" y1="444.70" x2="199.31" y2="444.70" stroke="#222" stroke-width="1.0"/>
<line x1="234.57" y1="432.60" x2="234.57" y2="468.40" stroke="#222" stroke-width="1.3"/>
<line x1="233.37" y1="432.60" x2="235.77" y2="432.60" stroke="#222" stroke-width="1.0"/>
<line x1="233.37" y1="468.40" x2="235.77" y2="468.40" stroke="#222" stroke-width="1.0"/>
<line x1="88.73" y1="466.50" x2="88.73" y2="476.90" stroke="#999" stroke-width="1.45"/>
<line x1="87.53" y1="466.50" x2="89.93" y2="466.50" stroke="#999" stroke-width="1.0"/>
<line x1="87.53" y1="476.90" x2="89.93" y2="476.90" stroke="#999" stroke-width="1.0"/>
<line x1="198.11" y1="429.30" x2="198.11" y2="490.20" stroke="#999" stroke-width="1.45"/>
<line x1="196.91" y1="429.30" x2="199.31" y2="429.30" stroke="#999" stroke-width="1.0"/>
<line x1="196.91" y1="490.20" x2="199.31" y2="490.20" stroke="#999" stroke-width="1.0"/>
<line x1="234.57" y1="458.90" x2="234.57" y2="481.10" stroke="#999" stroke-width="1.45"/>
<line x1="233.37" y1="458.90" x2="235.77" y2="458.90" stroke="#999" stroke-width="1.0"/>
<line x1="233.37" y1="481.10" x2="235.77" y2="481.10" stroke="#999" stroke-width="1.0"/>
<polyline points="88.73,470.90 143.42,496.20 198.11,459.30 234.57,470.00" fill="none" stroke="#999" stroke-width="1.5" stroke-linejoin="round"/>
<circle cx="88.73" cy="470.90" r="2.9" fill="#999"/>
<circle cx="143.42" cy="496.20" r="2.9" fill="#999"/>
<circle cx="198.11" cy="459.30" r="2.9" fill="#999"/>
<circle cx="234.57" cy="470.00" r="2.9" fill="#999"/>
<polyline points="88.73,442.80 143.42,413.70 198.11,437.00 234.57,450.50" fill="none" stroke="#000" stroke-width="1.7" stroke-linejoin="round"/>
<circle cx="88.73" cy="442.80" r="2.9" fill="#000"/>
<circle cx="143.42" cy="413.70" r="2.9" fill="#000"/>
<circle cx="198.11" cy="437.00" r="2.9" fill="#000"/>
<circle cx="234.57" cy="450.50" r="2.9" fill="#000"/>
<path d="M144.02,391.50L140.82,400.70M147.02,391.50L143.82,400.70" stroke="#000" stroke-width="1.25" fill="none"/>
<path d="M141.42,394.63L147.42,394.63M140.42,397.76L146.42,397.76" stroke="#000" stroke-width="1.0" fill="none"/>
<polygon points="143.42,483.70 144.18,486.05 146.65,486.05 144.65,487.50 145.42,489.85 143.42,488.39 141.42,489.85 142.19,487.50 140.19,486.05 142.66,486.05" fill="#a0a0a0"/>
<line x1="331.40" y1="393.40" x2="515.40" y2="393.40" stroke="#777" stroke-width="1.0"/>
<line x1="515.40" y1="393.40" x2="515.40" y2="505.00" stroke="#777" stroke-width="1.0"/>
<line x1="331.40" y1="392.90" x2="331.40" y2="505.60" stroke="#666" stroke-width="1.2"/>
<line x1="330.80" y1="505.00" x2="515.90" y2="505.00" stroke="#666" stroke-width="1.2"/>
<line x1="327.40" y1="505.00" x2="331.40" y2="505.00" stroke="#666" stroke-width="1.2"/>
<text x="320.50" y="510.40" font-size="12.5" text-anchor="end" fill="#000" stroke="#000" stroke-width="0.25" >0</text>
<line x1="327.40" y1="468.10" x2="331.40" y2="468.10" stroke="#666" stroke-width="1.2"/>
<text x="320.50" y="473.50" font-size="12.5" text-anchor="end" fill="#000" stroke="#000" stroke-width="0.25" >0.5</text>
<line x1="327.40" y1="431.20" x2="331.40" y2="431.20" stroke="#666" stroke-width="1.2"/>
<text x="320.50" y="436.60" font-size="12.5" text-anchor="end" fill="#000" stroke="#000" stroke-width="0.25" >1</text>
<line x1="327.40" y1="393.40" x2="331.40" y2="393.40" stroke="#666" stroke-width="1.2"/>
<text x="320.50" y="398.80" font-size="12.5" text-anchor="end" fill="#000" stroke="#000" stroke-width="0.25" >1.5</text>
<line x1="331.40" y1="505.00" x2="331.40" y2="508.00" stroke="#666" stroke-width="1.2"/>
<line x1="349.80" y1="505.00" x2="349.80" y2="508.00" stroke="#666" stroke-width="1.2"/>
<line x1="368.20" y1="505.00" x2="368.20" y2="508.00" stroke="#666" stroke-width="1.2"/>
<line x1="386.60" y1="505.00" x2="386.60" y2="508.00" stroke="#666" stroke-width="1.2"/>
<line x1="405.00" y1="505.00" x2="405.00" y2="508.00" stroke="#666" stroke-width="1.2"/>
<line x1="423.40" y1="505.00" x2="423.40" y2="508.00" stroke="#666" stroke-width="1.2"/>
<line x1="441.80" y1="505.00" x2="441.80" y2="508.00" stroke="#666" stroke-width="1.2"/>
<line x1="460.20" y1="505.00" x2="460.20" y2="508.00" stroke="#666" stroke-width="1.2"/>
<line x1="478.60" y1="505.00" x2="478.60" y2="508.00" stroke="#666" stroke-width="1.2"/>
<line x1="497.00" y1="505.00" x2="497.00" y2="508.00" stroke="#666" stroke-width="1.2"/>
<line x1="515.40" y1="505.00" x2="515.40" y2="508.00" stroke="#666" stroke-width="1.2"/>
<text x="350.00" y="522.10" font-size="12.5" text-anchor="middle" fill="#000" stroke="#000" stroke-width="0.25" >0</text>
<text x="387.60" y="522.10" font-size="12.5" text-anchor="middle" fill="#000" stroke="#000" stroke-width="0.25" >2</text>
<text x="422.20" y="522.10" font-size="12.5" text-anchor="middle" fill="#000" stroke="#000" stroke-width="0.25" >4</text>
<text x="460.00" y="522.10" font-size="12.5" text-anchor="middle" fill="#000" stroke="#000" stroke-width="0.25" >6</text>
<text x="497.20" y="522.10" font-size="12.5" text-anchor="middle" fill="#000" stroke="#000" stroke-width="0.25" >8</text>
<text x="427.00" y="533.50" font-size="13.5" text-anchor="middle" fill="#000" stroke="#000" stroke-width="0.25" >days post-doxorubicin</text>
<text x="276.50" y="447.00" font-size="12.8" text-anchor="middle" stroke="#000" stroke-width="0.25" transform="rotate(-90 276.50 447.00)">hepcidin:β-actin</text>
<text x="290.20" y="448.50" font-size="13.3" text-anchor="middle" stroke="#000" stroke-width="0.25" transform="rotate(-90 290.20 448.50)">(relative to wt day 0)</text>
<text x="267.80" y="380.70" font-size="17.5" text-anchor="start" fill="#000" stroke="#000" stroke-width="0.25" font-weight="bold">F</text>
<line x1="349.80" y1="405.80" x2="349.80" y2="456.30" stroke="#222" stroke-width="1.25"/>
<line x1="349.00" y1="405.80" x2="350.60" y2="405.80" stroke="#222" stroke-width="1.0"/>
<line x1="349.00" y1="456.30" x2="350.60" y2="456.30" stroke="#222" stroke-width="1.0"/>
<line x1="405.00" y1="441.25" x2="405.00" y2="465.75" stroke="#222" stroke-width="1.25"/>
<line x1="404.20" y1="441.25" x2="405.80" y2="441.25" stroke="#222" stroke-width="1.0"/>
<line x1="404.20" y1="465.75" x2="405.80" y2="465.75" stroke="#222" stroke-width="1.0"/>
<line x1="460.20" y1="426.70" x2="460.20" y2="477.00" stroke="#222" stroke-width="1.25"/>
<line x1="459.40" y1="426.70" x2="461.00" y2="426.70" stroke="#222" stroke-width="1.0"/>
<line x1="459.40" y1="477.00" x2="461.00" y2="477.00" stroke="#222" stroke-width="1.0"/>
<line x1="497.00" y1="414.00" x2="497.00" y2="480.40" stroke="#222" stroke-width="1.25"/>
<line x1="496.20" y1="414.00" x2="497.80" y2="414.00" stroke="#222" stroke-width="1.0"/>
<line x1="496.20" y1="480.40" x2="497.80" y2="480.40" stroke="#222" stroke-width="1.0"/>
<polyline points="349.80,504.50 405.00,502.70 460.20,503.30 497.00,503.30" fill="none" stroke="#aaa" stroke-width="1.2" stroke-linejoin="round"/>
<circle cx="349.80" cy="504.50" r="2.9" fill="#aaa"/>
<circle cx="405.00" cy="502.70" r="2.9" fill="#aaa"/>
<circle cx="460.20" cy="503.30" r="2.9" fill="#aaa"/>
<circle cx="497.00" cy="503.30" r="2.9" fill="#aaa"/>
<polyline points="349.80,430.60 405.00,453.30 460.20,451.70 497.00,447.20" fill="none" stroke="#000" stroke-width="1.1" stroke-linejoin="round"/>
<circle cx="349.80" cy="430.60" r="2.9" fill="#000"/>
<circle cx="405.00" cy="453.30" r="2.9" fill="#000"/>
<circle cx="460.20" cy="451.70" r="2.9" fill="#000"/>
<circle cx="497.00" cy="447.20" r="2.9" fill="#000"/>
<path d="M350.10,394.70L347.50,403.90M352.70,394.70L350.10,403.90" stroke="#000" stroke-width="0.95" fill="none"/>
<path d="M347.60,397.83L353.60,397.83M346.60,400.96L352.60,400.96" stroke="#000" stroke-width="0.9" fill="none"/>
<path d="M405.30,430.50L402.70,439.70M407.90,430.50L405.30,439.70" stroke="#000" stroke-width="0.95" fill="none"/>
<path d="M402.80,433.63L408.80,433.63M401.80,436.76L407.80,436.76" stroke="#000" stroke-width="0.9" fill="none"/>
<path d="M460.50,415.00L457.90,424.20M463.10,415.00L460.50,424.20" stroke="#000" stroke-width="0.95" fill="none"/>
<path d="M458.00,418.13L464.00,418.13M457.00,421.26L463.00,421.26" stroke="#000" stroke-width="0.9" fill="none"/>
<path d="M497.30,402.60L494.70,411.80M499.90,402.60L497.30,411.80" stroke="#000" stroke-width="0.95" fill="none"/>
<path d="M494.80,405.73L500.80,405.73M493.80,408.86L499.80,408.86" stroke="#000" stroke-width="0.9" fill="none"/>
</svg></body></html>
